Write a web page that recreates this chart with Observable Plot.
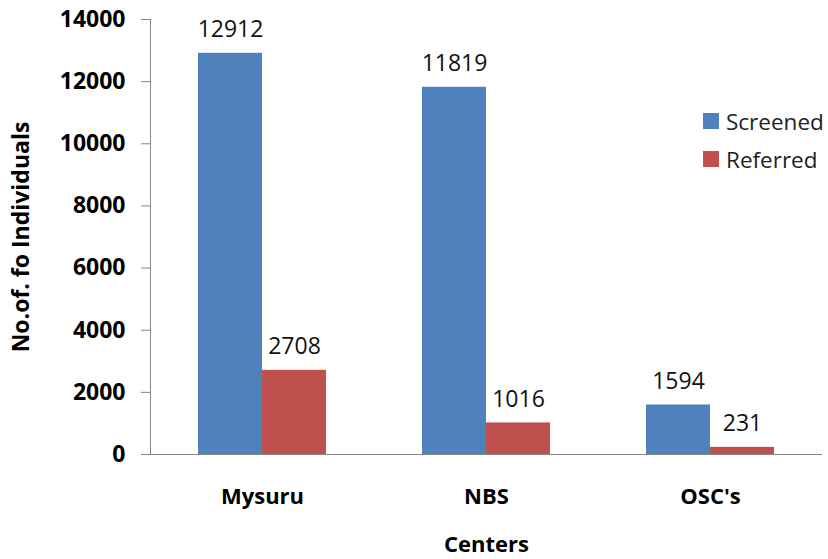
<!DOCTYPE html>
<html>
<head>
<meta charset="utf-8">
<script src="https://cdn.jsdelivr.net/npm/d3@7"></script>
<script src="https://cdn.jsdelivr.net/npm/@observablehq/plot@0.6"></script>
<style>
  html, body { margin: 0; padding: 0; background: #fff; }
  #wrap { position: relative; width: 828px; height: 559px; font-family: 'Open Sans', sans-serif; }
  #legend { position: absolute; left: 703px; top: 102px; font-size: 22.5px; color: #222; }
  .item { display: flex; align-items: center; height: 38px; }
  .sw { width: 16px; height: 16px; margin-right: 7px; }
</style>
</head>
<body>
<div id="wrap"></div>
<script>
const centers = ["Mysuru", "NBS", "OSC's"];
const series = ["Screened", "Referred"];
const screened = [12912, 11819, 1594];
const referred = [2708, 1016, 231];
const yTicks = [0, 2000, 4000, 6000, 8000, 10000, 12000, 14000];
const colors = ["#4F81BD", "#C0504D"];
const FONT = "'Open Sans', sans-serif";

const data = centers.flatMap((c, i) => [
  {center: c, series: "Screened", value: screened[i]},
  {center: c, series: "Referred", value: referred[i]}
]);

const chart = Plot.plot({
  width: 828,
  height: 559,
  marginLeft: 150,
  marginRight: 6,
  marginTop: 19,
  marginBottom: 105,
  style: {fontFamily: FONT, background: "#fff", color: "#000"},
  fx: {domain: centers, padding: 0, label: "Centers"},
  x: {domain: series, paddingInner: 0, paddingOuter: 0.75, axis: null},
  y: {domain: [0, 14000]},
  color: {domain: series, range: colors},
  marks: [
    Plot.barY(data, {fx: "center", x: "series", y: "value", fill: "series"}),
    Plot.text(data, {fx: "center", x: "series", y: "value", text: d => String(d.value),
      lineAnchor: "bottom", dy: -16, fontSize: 23, fill: "#111", fontFamily: FONT}),
    Plot.ruleY([0], {stroke: "#868686"}),
    Plot.frame({anchor: "left", facetAnchor: "left", stroke: "#868686"}),
    Plot.axisY({ticks: yTicks, tickSize: 9, tickPadding: 16, stroke: "#868686", fill: "#000",
      fontSize: 23, fontWeight: "bold", fontFamily: FONT, tickFormat: d => String(d),
      label: "No.of. fo Individuals", labelAnchor: "center", labelArrow: "none", labelOffset: 138}),
    Plot.axisFx({anchor: "bottom", tickSize: 0, tickPadding: 34, fontSize: 22, fontWeight: "bold",
      fontFamily: FONT, fill: "#000",
      label: "Centers", labelAnchor: "center", labelArrow: "none", labelOffset: 97})
  ]
});

const wrap = document.getElementById("wrap");
wrap.appendChild(chart);
const legend = document.createElement("div");
legend.id = "legend";
series.forEach((s, i) => {
  const item = document.createElement("div");
  item.className = "item";
  const sw = document.createElement("span");
  sw.className = "sw";
  sw.style.background = colors[i];
  const t = document.createElement("span");
  t.textContent = s;
  item.appendChild(sw);
  item.appendChild(t);
  legend.appendChild(item);
});
wrap.appendChild(legend);
</script>
</body>
</html>
